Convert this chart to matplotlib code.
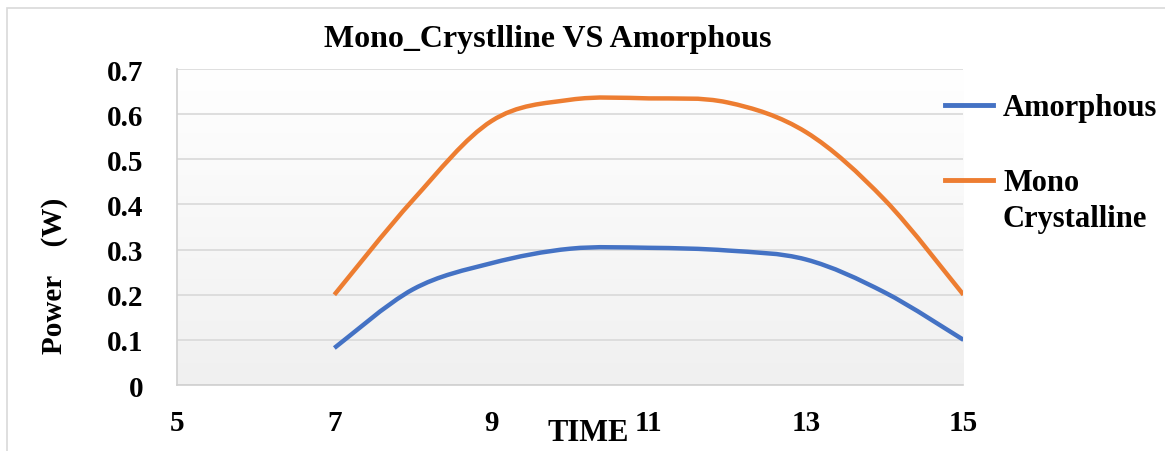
import numpy as np
import matplotlib.pyplot as plt
from matplotlib.path import Path
from matplotlib.patches import PathPatch, Rectangle
from matplotlib.lines import Line2D
from matplotlib.colors import LinearSegmentedColormap

# values
time = [7, 8, 9, 10, 11, 12, 13, 14, 15]
amorphous = [0.082, 0.212, 0.27, 0.302, 0.304, 0.298, 0.278, 0.205, 0.10]
mono = [0.20, 0.41, 0.585, 0.632, 0.635, 0.626, 0.56, 0.41, 0.20]
series_names = ['Amorphous', 'Mono\nCrystalline']
colors = ['#4472C4', '#ED7D31']
title = 'Mono_Crystlline VS Amorphous'
xlabel = 'TIME'
ylabel = 'Power    (W)'

font = 'Liberation Serif'
plt.rcParams['font.family'] = font
plt.rcParams['font.weight'] = 'bold'


def smooth_path(xs, ys):
    # excel style smoothed line: cubic bezier through every point
    pts = np.column_stack([xs, ys]).astype(float)
    n = len(pts)
    verts = [pts[0]]
    codes = [Path.MOVETO]
    for i in range(n - 1):
        p0 = pts[max(i - 1, 0)]
        p1 = pts[i]
        p2 = pts[i + 1]
        p3 = pts[min(i + 2, n - 1)]
        c1 = p1 + (p2 - p0) / 6.0
        c2 = p2 - (p3 - p1) / 6.0
        verts += [c1, c2, p2]
        codes += [Path.CURVE4] * 3
    return Path(verts, codes)


fig = plt.figure(figsize=(11.65, 4.52), dpi=100)
fig.patches.append(Rectangle((0.006, -0.1), 1.2, 1.08, transform=fig.transFigure,
                             fill=False, edgecolor='#d9d9d9', linewidth=1.2))
ax = fig.add_axes([0.152, 0.146, 0.675, 0.699])

# gradient background of the plot area
grad = np.linspace(0, 1, 256).reshape(-1, 1)
cmap = LinearSegmentedColormap.from_list('bg', ['#ffffff', '#f0f0f0'])
ax.imshow(grad, extent=[5, 15, 0, 0.7], aspect='auto', cmap=cmap, origin='upper', zorder=0)

for ys, c in zip([amorphous, mono], colors):
    ax.add_patch(PathPatch(smooth_path(time, ys), facecolor='none', edgecolor=c,
                           linewidth=3.2, capstyle='butt', zorder=3))

ax.set_xlim(5, 15)
ax.set_ylim(0, 0.7)
ax.set_xticks([5, 7, 9, 11, 13, 15])
ax.set_yticks(np.arange(0, 0.71, 0.1))
ax.set_yticklabels(['0', '0.1', '0.2', '0.3', '0.4', '0.5', '0.6', '0.7'])
ax.yaxis.grid(True, color='#d9d9d9', linewidth=1.2, zorder=1)
ax.set_axisbelow(True)
ax.tick_params(length=0, labelsize=21)
ax.tick_params(axis='x', pad=17)
ax.tick_params(axis='y', pad=24)
for s in ['top', 'right']:
    ax.spines[s].set_visible(False)
for s in ['left', 'bottom']:
    ax.spines[s].set_color('#d0d0d0')
    ax.spines[s].set_linewidth(1.2)

fig.text(0.47, 1 - 40 / 452, title, fontsize=23, fontweight='bold', ha='center', va='center')
fig.text(0.505, 1 - 434 / 452, xlabel, fontsize=22, fontweight='bold', ha='center', va='center')
fig.text(0.047, 1 - 276 / 452, ylabel, fontsize=21, fontweight='bold', ha='center', va='center',
         rotation=90)

# legend on the right, handle next to first text line
leg_y = [1 - 106 / 452, 1 - 181 / 452]
for name, c, y in zip(series_names, colors, leg_y):
    fig.add_artist(Line2D([945 / 1165, 993 / 1165], [y, y], color=c, linewidth=3.5,
                          transform=fig.transFigure))
    fig.text(1003 / 1165, y + 0.027, name, fontsize=22, fontweight='bold',
             ha='left', va='top', linespacing=1.35)

fig.savefig('out.png', dpi=100)
